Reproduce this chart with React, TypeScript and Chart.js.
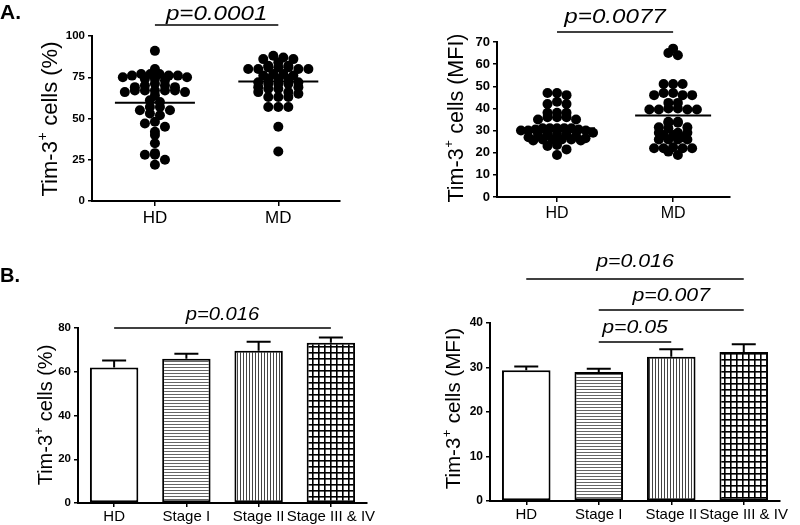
import React, { useEffect, useRef } from 'react';
import { Chart, registerables } from 'chart.js';

Chart.register(...registerables);

const FONT = "Arial, 'Liberation Sans', Helvetica, sans-serif";

// ---------- Data ----------
const groupCats = ['HD', 'MD'];

const hdPct = [91, 80, 77, 77, 77, 76, 76, 76, 75, 75, 74, 74, 73, 71, 70, 70, 69, 69, 67, 67, 67, 67, 67, 66, 66, 64, 61, 60, 57, 57, 55, 55, 53, 52, 48, 47, 45, 42, 40, 35, 29, 28, 28, 25, 22];
const mdPct = [88, 87, 86, 86, 84, 82, 82, 81, 81, 81, 80, 80, 80, 80, 77, 77, 76, 76, 74, 74, 74, 72, 72, 71, 71, 71, 69, 69, 68, 68, 66, 66, 65, 63, 63, 63, 57, 57, 57, 45, 30];
const meanPct = [59.5, 72.5];

const hdMfi = [47, 47, 46, 43, 42, 42, 38, 38, 38, 36, 36, 36, 35, 35, 31, 31, 31, 31, 31, 30.5, 30.5, 30, 30, 30, 29, 28.5, 28, 28, 28, 27.5, 27, 26.5, 26, 26, 26, 26, 25.5, 25.5, 23.5, 23, 21.5, 19];
const mdMfi = [67, 65, 64, 51, 51, 51, 47, 47, 46, 46, 46, 42.5, 42.5, 40, 40, 39.5, 39.5, 39.5, 39.5, 34, 34, 33.5, 33.5, 31.5, 31.5, 31, 29, 29, 29, 28, 28, 27, 26, 26, 26, 26, 22.5, 22, 22, 22, 22, 20.5, 19];
const meanMfi = [31, 36.8];

const stageCats = ['HD', 'Stage I', 'Stage II', 'Stage III & IV'];
const stagePctMean = [62, 66, 69.6, 73.3];
const stagePctSem = [3.1, 2.2, 4.1, 2.4];
const stageMfiMean = [29.4, 29.0, 32.4, 33.5];
const stageMfiSem = [0.8, 0.7, 1.7, 1.7];

const pTopLeft = [{ text: 'p=0.0001', from: 0, to: 1 }];
const pTopRight = [{ text: 'p=0.0077', from: 0, to: 1 }];
const pBottomLeft = [{ text: 'p=0.016', from: 0, to: 3 }];
const pBottomRight = [
  { text: 'p=0.016', from: 0, to: 3 },
  { text: 'p=0.007', from: 1, to: 3 },
  { text: 'p=0.05', from: 1, to: 2 },
];

// ---------- helpers ----------
// GraphPad-like column scatter: values are grouped into rows, each row centred.
function binOffsets(values: number[], pxPerUnit: number, rowH: number, maxStep: number, maxHalf: number): number[] {
  const bins = new Map<number, number[]>();
  values.forEach((v, i) => {
    const b = Math.round((v * pxPerUnit) / rowH);
    if (!bins.has(b)) bins.set(b, []);
    (bins.get(b) as number[]).push(i);
  });
  const out: number[] = new Array(values.length).fill(0);
  bins.forEach(idx => {
    const n = idx.length;
    const step = n > 1 ? Math.min(maxStep, (2 * maxHalf) / (n - 1)) : 0;
    const positions = idx.map((_, j) => (j - (n - 1) / 2) * step);
    positions.sort((a, b) => Math.abs(a) - Math.abs(b) || a - b);
    const sorted = [...idx].sort((a, b) => values[b] - values[a]);
    sorted.forEach((id, j) => { out[id] = positions[j]; });
  });
  return out;
}

function yTitlePlugin(unit: string, size: number, cx: number, cy: number) {
  return {
    id: 'ytitle',
    afterDraw(chart: any) {
      const ctx = chart.ctx;
      ctx.save();
      ctx.translate(cx, cy);
      ctx.rotate(-Math.PI / 2);
      ctx.fillStyle = '#000';
      ctx.textBaseline = 'alphabetic';
      ctx.textAlign = 'left';
      const f1 = `${size}px ${FONT}`;
      const f2 = `${Math.round(size * 0.62)}px ${FONT}`;
      const a = 'Tim-3', b = '+', c = ` cells (${unit})`;
      ctx.font = f1;
      const wa = ctx.measureText(a).width;
      const wc = ctx.measureText(c).width;
      ctx.font = f2;
      const wb = ctx.measureText(b).width;
      const total = wa + wb + 1 + wc;
      let x = -total / 2;
      const base = size * 0.36;
      ctx.font = f1; ctx.fillText(a, x, base); x += wa + 0.5;
      ctx.font = f2; ctx.fillText(b, x, base - size * 0.45); x += wb + 0.5;
      ctx.font = f1; ctx.fillText(c, x, base);
      ctx.restore();
    },
  };
}

function pvalPlugin(items: { text: string; from: number; to: number }[], textYs: number[], lineYs: number[], size: number, sx: number) {
  return {
    id: 'pvals',
    afterDraw(chart: any) {
      const ctx = chart.ctx;
      const xs = chart.scales.x;
      ctx.save();
      items.forEach((it, i) => {
        const x1 = xs.getPixelForValue(it.from);
        const x2 = xs.getPixelForValue(it.to);
        ctx.strokeStyle = '#000';
        ctx.lineWidth = 1.6;
        ctx.beginPath();
        ctx.moveTo(x1, lineYs[i]);
        ctx.lineTo(x2, lineYs[i]);
        ctx.stroke();
        ctx.save();
        ctx.translate((x1 + x2) / 2, textYs[i]);
        ctx.scale(sx, 1);
        ctx.font = `italic ${size}px ${FONT}`;
        ctx.fillStyle = '#000';
        ctx.textAlign = 'center';
        ctx.textBaseline = 'middle';
        ctx.fillText(it.text, 0, 0);
        ctx.restore();
      });
      ctx.restore();
    },
  };
}

function meanLinePlugin(means: number[], halfWidth: number) {
  return {
    id: 'meanlines',
    afterDatasetsDraw(chart: any) {
      const ctx = chart.ctx;
      const xs = chart.scales.x, ys = chart.scales.y;
      ctx.save();
      ctx.strokeStyle = '#000';
      ctx.lineWidth = 2;
      means.forEach((m, i) => {
        const x = xs.getPixelForValue(i);
        const y = ys.getPixelForValue(m);
        ctx.beginPath();
        ctx.moveTo(x - halfWidth, y);
        ctx.lineTo(x + halfWidth, y);
        ctx.stroke();
      });
      ctx.restore();
    },
  };
}

function errorBarPlugin(means: number[], sems: number[], capHalf: number) {
  return {
    id: 'errbars',
    afterDatasetsDraw(chart: any) {
      const ctx = chart.ctx;
      const ys = chart.scales.y;
      const meta = chart.getDatasetMeta(0);
      ctx.save();
      ctx.strokeStyle = '#000';
      ctx.lineWidth = 2;
      means.forEach((m, i) => {
        const x = meta.data[i].x;
        const y0 = ys.getPixelForValue(m);
        const y1 = ys.getPixelForValue(m + sems[i]);
        ctx.beginPath();
        ctx.moveTo(x, y0);
        ctx.lineTo(x, y1);
        ctx.moveTo(x - capHalf, y1);
        ctx.lineTo(x + capHalf, y1);
        ctx.stroke();
      });
      ctx.restore();
    },
  };
}

function makePattern(kind: string): any {
  const c = document.createElement('canvas');
  const ctx = c.getContext('2d') as CanvasRenderingContext2D;
  if (kind === 'white') return '#fff';
  if (kind === 'h') {
    c.width = 3; c.height = 3;
    ctx.fillStyle = '#fff'; ctx.fillRect(0, 0, 3, 3);
    ctx.fillStyle = '#666'; ctx.fillRect(0, 0, 3, 1);
  } else if (kind === 'v') {
    c.width = 3; c.height = 3;
    ctx.fillStyle = '#fff'; ctx.fillRect(0, 0, 3, 3);
    ctx.fillStyle = '#444'; ctx.fillRect(0, 0, 1, 3);
  } else {
    c.width = 6; c.height = 6;
    ctx.fillStyle = '#fff'; ctx.fillRect(0, 0, 6, 6);
    ctx.fillStyle = '#000';
    ctx.fillRect(0, 0, 6, 1.6);
    ctx.fillRect(0, 0, 1.6, 6);
  }
  const p = ctx.createPattern(c, 'repeat');
  return p;
}

function axisCommon(tickLen: number) {
  return {
    grid: { drawOnChartArea: false, drawTicks: true, tickLength: tickLen, color: '#000', lineWidth: 1.5 },
    border: { display: true, color: '#000', width: 2 },
  };
}

function scatterConfig(opts: any) {
  const { hd, md, means, pxPerUnit, pxPerCat, rowH, maxStep, maxHalf, xmin, xmax, ymax, step, yWidth, pad, tickFont, xFont, title, pvals, pTextY, pLineY, pSize, halfW } = opts;
  const offHd = binOffsets(hd, pxPerUnit, rowH, maxStep, maxHalf);
  const offMd = binOffsets(md, pxPerUnit, rowH, maxStep, maxHalf);
  const points = [
    ...hd.map((v: number, i: number) => ({ x: 0 + offHd[i] / pxPerCat, y: v })),
    ...md.map((v: number, i: number) => ({ x: 1 + offMd[i] / pxPerCat, y: v })),
  ];
  return {
    type: 'scatter',
    data: {
      datasets: [{ data: points, pointRadius: 5, pointHoverRadius: 5, backgroundColor: '#000', borderWidth: 0 }],
    },
    options: {
      responsive: false,
      animation: false,
      events: [],
      layout: { padding: pad },
      plugins: { legend: { display: false }, tooltip: { enabled: false } },
      scales: {
        x: {
          type: 'linear',
          min: xmin,
          max: xmax,
          afterBuildTicks: (s: any) => { s.ticks = groupCats.map((_, i) => ({ value: i })); },
          afterFit: (s: any) => { s.height = 30; },
          ticks: { callback: (v: any) => groupCats[v], font: { size: xFont }, color: '#000', padding: 2, autoSkip: false, maxRotation: 0 },
          ...axisCommon(5),
        },
        y: {
          min: 0,
          max: ymax,
          afterFit: (s: any) => { s.width = yWidth; },
          ticks: { stepSize: step, font: { size: tickFont, weight: 'bold' }, color: '#000', padding: 3 },
          ...axisCommon(4),
        },
      },
    },
    plugins: [
      yTitlePlugin(title.unit, title.size, title.cx, title.cy),
      pvalPlugin(pvals, pTextY, pLineY, pSize, 1.15),
      meanLinePlugin(means, halfW),
    ],
  };
}

function barConfig(opts: any) {
  const { means, sems, ymax, step, yWidth, pad, tickFont, xFont, title, pvals, pTextY, pLineY, pSize, xHeight } = opts;
  const fills = [makePattern('white'), makePattern('h'), makePattern('v'), makePattern('grid')];
  return {
    type: 'bar',
    data: {
      labels: stageCats,
      datasets: [{
        data: means,
        backgroundColor: fills,
        borderColor: '#000',
        borderWidth: 2,
        borderSkipped: false,
        barPercentage: 0.67,
        categoryPercentage: 1,
      }],
    },
    options: {
      responsive: false,
      animation: false,
      events: [],
      layout: { padding: pad },
      plugins: { legend: { display: false }, tooltip: { enabled: false } },
      scales: {
        x: {
          afterFit: (s: any) => { s.height = xHeight; },
          ticks: { font: { size: xFont }, color: '#000', padding: 1, autoSkip: false, maxRotation: 0 },
          grid: { offset: false, drawOnChartArea: false, drawTicks: true, tickLength: 4, color: '#000', lineWidth: 1.5 },
          border: { display: true, color: '#000', width: 2 },
        },
        y: {
          min: 0,
          max: ymax,
          afterFit: (s: any) => { s.width = yWidth; },
          ticks: { stepSize: step, font: { size: tickFont, weight: 'bold' }, color: '#000', padding: 3 },
          ...axisCommon(4),
        },
      },
    },
    plugins: [
      errorBarPlugin(means, sems, 12),
      yTitlePlugin(title.unit, title.size, title.cx, title.cy),
      pvalPlugin(pvals, pTextY, pLineY, pSize, 1.12),
    ],
  };
}

export default function App() {
  const r1 = useRef<HTMLCanvasElement>(null);
  const r2 = useRef<HTMLCanvasElement>(null);
  const r3 = useRef<HTMLCanvasElement>(null);
  const r4 = useRef<HTMLCanvasElement>(null);

  useEffect(() => {
    Chart.defaults.font.family = FONT;
    Chart.defaults.color = '#000';
    const charts: Chart[] = [];

    charts.push(new Chart(r1.current as HTMLCanvasElement, scatterConfig({
      hd: hdPct, md: mdPct, means: meanPct,
      pxPerUnit: 1.65, pxPerCat: 123, rowH: 5.5, maxStep: 10, maxHalf: 32,
      xmin: -0.51, xmax: 1.5, ymax: 100, step: 25, yWidth: 92,
      pad: { left: 0, right: 60, top: 36, bottom: 19 },
      tickFont: 11.5, xFont: 17,
      title: { unit: '%', size: 22, cx: 49, cy: 119 },
      pvals: pTopLeft, pTextY: [14], pLineY: [25], pSize: 21, halfW: 40,
    }) as any));

    charts.push(new Chart(r2.current as HTMLCanvasElement, scatterConfig({
      hd: hdMfi, md: mdMfi, means: meanMfi,
      pxPerUnit: 2.214, pxPerCat: 116, rowH: 5.5, maxStep: 9.5, maxHalf: 36,
      xmin: -0.517, xmax: 1.49, ymax: 70, step: 10, yWidth: 97,
      pad: { left: 0, right: 70, top: 42, bottom: 23 },
      tickFont: 13, xFont: 16,
      title: { unit: 'MFI', size: 21.5, cx: 55, cy: 118 },
      pvals: pTopRight, pTextY: [17], pLineY: [32], pSize: 21, halfW: 38,
    }) as any));

    charts.push(new Chart(r3.current as HTMLCanvasElement, barConfig({
      means: stagePctMean, sems: stagePctSem, ymax: 80, step: 20, yWidth: 78,
      pad: { left: 0, right: 33, top: 48, bottom: 0 }, xHeight: 22,
      tickFont: 11.5, xFont: 15,
      title: { unit: '%', size: 20, cx: 45, cy: 135 },
      pvals: pBottomLeft, pTextY: [35], pLineY: [48], pSize: 18,
    }) as any));

    charts.push(new Chart(r4.current as HTMLCanvasElement, barConfig({
      means: stageMfiMean, sems: stageMfiSem, ymax: 40, step: 10, yWidth: 90,
      pad: { left: 0, right: 20, top: 78, bottom: 0 }, xHeight: 24,
      tickFont: 12, xFont: 15,
      title: { unit: 'MFI', size: 20.5, cx: 53, cy: 163.5 },
      pvals: pBottomRight, pTextY: [17, 51, 82.5], pLineY: [34, 65, 97], pSize: 19,
    }) as any));

    return () => { charts.forEach(c => c.destroy()); };
  }, []);

  const cs = (l: number, t: number, w: number, h: number): React.CSSProperties => ({
    position: 'absolute', left: l, top: t, width: w, height: h,
  });
  const head: React.CSSProperties = {
    position: 'absolute', left: 0, fontFamily: FONT, fontWeight: 'bold', fontSize: 21, lineHeight: '21px', color: '#000',
  };

  return (
    <div style={{ position: 'fixed', left: 0, top: 0, width: 800, height: 525, background: '#fff', overflow: 'hidden' }}>
      <canvas ref={r1} width={400} height={250} style={cs(0, 0, 400, 250)} />
      <canvas ref={r2} width={400} height={250} style={cs(400, 0, 400, 250)} />
      <canvas ref={r3} width={400} height={245} style={cs(0, 280, 400, 245)} />
      <canvas ref={r4} width={400} height={280} style={cs(400, 245, 400, 280)} />
      <div style={{ ...head, top: 1 }}>A.</div>
      <div style={{ ...head, top: 265, fontSize: 20 }}>B.</div>
    </div>
  );
}
